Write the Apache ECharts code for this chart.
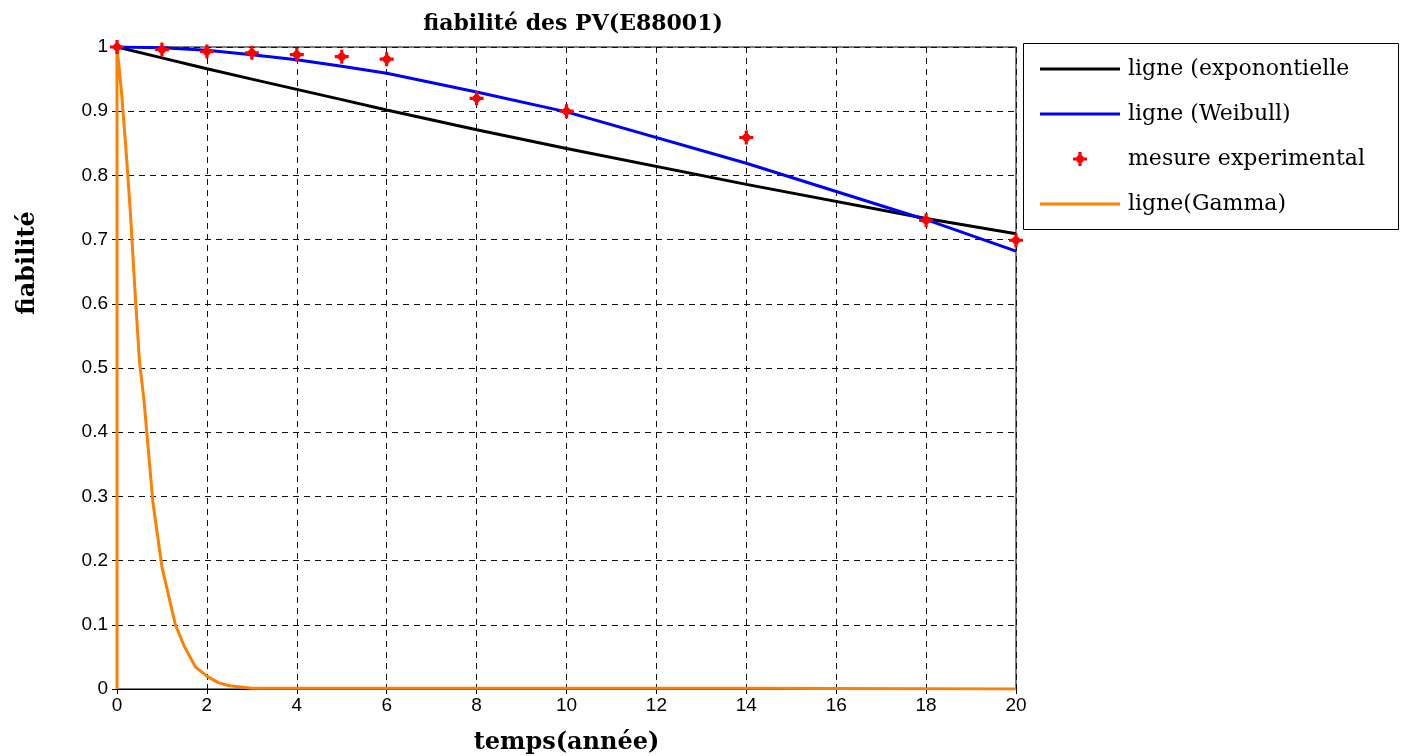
<!DOCTYPE html>
<html>
<head>
<meta charset="utf-8">
<script src="https://cdn.jsdelivr.net/npm/echarts@6/dist/echarts.min.js"></script>
<style>
  html, body { margin: 0; padding: 0; background: #fff; }
  #chart { width: 1408px; height: 756px; }
</style>
</head>
<body>
<div id="chart"></div>
<script>
// Inspection years and the fitted reliability curves
const years = [0, 1, 2, 3, 4, 5, 6, 8, 10, 14, 18, 20];
const measured = [1.0, 0.996, 0.993, 0.991, 0.988, 0.985, 0.981, 0.920, 0.900, 0.859, 0.730, 0.699];
const expLine = [1.0, 0.983, 0.966, 0.950, 0.934, 0.918, 0.902, 0.871, 0.842, 0.786, 0.733, 0.709];
const weibullLine = [1.0, 0.999, 0.995, 0.988, 0.980, 0.970, 0.959, 0.930, 0.899, 0.819, 0.731, 0.682];

// Gamma model, sampled more finely near the origin
const gammaT = [0, 0, 0.1, 0.2, 0.3, 0.4, 0.5, 0.6, 0.7, 0.8, 0.9, 1.0, 1.1, 1.2, 1.3, 1.5, 1.75, 2.0, 2.25, 2.5, 2.75, 3, 4, 6, 8, 10, 14, 18, 20];
const gammaR = [0, 1.0, 0.93, 0.84, 0.74, 0.62, 0.51, 0.45, 0.37, 0.29, 0.24, 0.19, 0.16, 0.13, 0.10, 0.066, 0.034, 0.020, 0.010, 0.005, 0.003, 0.001, 0.001, 0.001, 0.001, 0.001, 0.001, 0.0005, 0];

const seriesNames = ['ligne (exponontielle', 'ligne (Weibull)', 'mesure experimental', 'ligne(Gamma)'];
const xTicks = { min: 0, max: 20, step: 2 };
const yTicks = { min: 0, max: 1, step: 0.1 };

const pair = (xs, ys) => xs.map((x, i) => [x, ys[i]]);

// plus-over-diamond marker for the measurements
const markerPath = 'path://M-1.6,-7L1.6,-7L1.6,-4L4,-1.6L7,-1.6L7,1.6L4,1.6L1.6,4L1.6,7L-1.6,7L-1.6,4L-4,1.6L-7,1.6L-7,-1.6L-4,-1.6L-1.6,-4Z';
// flat bar used as the legend swatch of the line series
const lineSwatch = 'path://M0,0L80,0L80,3L0,3Z';

const G = { left: 117, top: 47, right: 1408 - 1016, bottom: 756 - 689 };
const serif = '"DejaVu Serif", serif';
const tickFont = { color: '#000', fontFamily: '"Liberation Sans", Arial, sans-serif', fontSize: 19 };
const gridLine = { show: true, lineStyle: { color: '#111', type: [6, 5], width: 1 } };
const frameTick = { show: true, inside: true, length: 5, lineStyle: { color: '#000' } };

const chart = echarts.init(document.getElementById('chart'), null, { renderer: 'canvas' });

chart.setOption({
  animation: false,
  backgroundColor: '#fff',
  title: {
    text: 'fiabilité des PV(E88001)',
    left: 568,
    textAlign: 'center',
    top: 8,
    textStyle: { fontFamily: serif, fontWeight: 'bold', fontSize: 22, color: '#000' }
  },
  grid: {
    left: G.left, top: G.top, right: G.right, bottom: G.bottom,
    outerBoundsMode: 'none', containLabel: false,
    show: true, borderColor: '#000', borderWidth: 1, backgroundColor: '#fff'
  },
  xAxis: [{
    type: 'value', min: xTicks.min, max: xTicks.max, interval: xTicks.step,
    name: 'temps(année)', nameLocation: 'middle', nameGap: 42,
    nameTextStyle: { fontFamily: serif, fontWeight: 'bold', fontSize: 24, color: '#000' },
    axisLine: { show: true, lineStyle: { color: '#000', width: 1 } },
    axisTick: frameTick,
    axisLabel: Object.assign({ margin: 7 }, tickFont),
    splitLine: gridLine
  }, {
    type: 'value', position: 'top', min: xTicks.min, max: xTicks.max, interval: xTicks.step,
    axisLine: { show: true, lineStyle: { color: '#000', width: 1 } },
    axisTick: frameTick,
    axisLabel: { show: false }, splitLine: { show: false }
  }],
  yAxis: [{
    type: 'value', min: yTicks.min, max: yTicks.max, interval: yTicks.step,
    axisLine: { show: true, lineStyle: { color: '#000', width: 1 } },
    axisTick: frameTick,
    axisLabel: Object.assign({ margin: 9, formatter: v => String(parseFloat(v.toFixed(1))) }, tickFont),
    splitLine: gridLine
  }, {
    type: 'value', position: 'right', min: yTicks.min, max: yTicks.max, interval: yTicks.step,
    axisLine: { show: true, lineStyle: { color: '#000', width: 1 } },
    axisTick: frameTick,
    axisLabel: { show: false }, splitLine: { show: false }
  }],
  legend: {
    orient: 'vertical',
    left: 1023, top: 43,
    padding: [15, 10, 10, 17],
    itemWidth: 80, itemHeight: 14, itemGap: 23,
    data: [
      { name: seriesNames[0], icon: lineSwatch },
      { name: seriesNames[1], icon: lineSwatch },
      { name: seriesNames[2] },
      { name: seriesNames[3], icon: lineSwatch }
    ],
    textStyle: { fontFamily: serif, fontSize: 22, color: '#000', padding: [0, 0, 0, 3] }
  },
  graphic: [
    {
      type: 'rect', left: 1023, top: 43, z: -1,
      shape: { width: 375, height: 186 },
      style: { fill: '#fff', stroke: '#000', lineWidth: 1 }
    },
    {
      type: 'text', x: 28, y: 263, rotation: Math.PI / 2,
      style: { text: 'fiabilité', fill: '#000', font: 'bold 24px "DejaVu Serif", serif', align: 'center', verticalAlign: 'middle' }
    }
  ],
  series: [
    {
      name: seriesNames[0], type: 'line', data: pair(years, expLine),
      symbol: 'none', lineStyle: { color: '#000', width: 3 }, itemStyle: { color: '#000' }, z: 3
    },
    {
      name: seriesNames[1], type: 'line', data: pair(years, weibullLine),
      symbol: 'none', lineStyle: { color: '#0000ff', width: 3 }, itemStyle: { color: '#0000ff' }, z: 3
    },
    {
      name: seriesNames[2], type: 'scatter', data: pair(years, measured),
      symbol: markerPath, symbolSize: 14, itemStyle: { color: '#ff0000', opacity: 1 }, z: 6
    },
    {
      name: seriesNames[3], type: 'line', data: pair(gammaT, gammaR),
      symbol: 'none', lineStyle: { color: '#ff8000', width: 3 }, itemStyle: { color: '#ff8000' }, z: 4
    }
  ]
});
</script>
</body>
</html>
